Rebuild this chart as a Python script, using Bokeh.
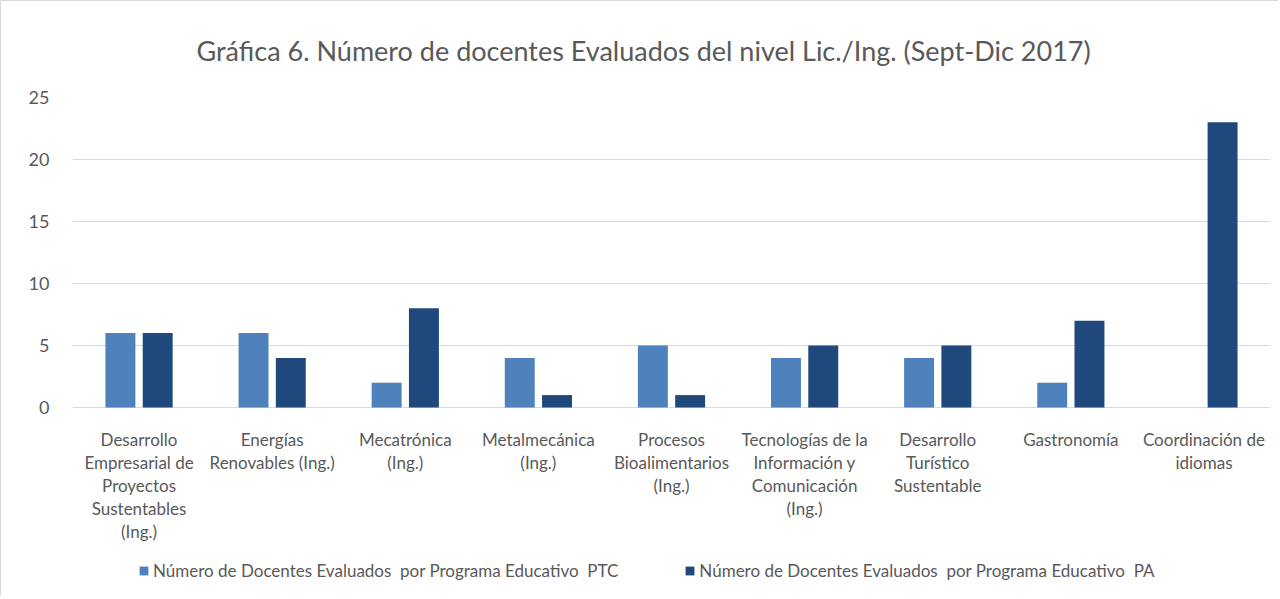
from bokeh.plotting import figure
from bokeh.models import ColumnDataSource, Legend, LegendItem, FixedTicker, Range1d
from bokeh.core.properties import value
from bokeh.embed import file_html
from bokeh.resources import INLINE
import numpy as np

categories = [
    "Desarrollo\nEmpresarial de\nProyectos\nSustentables\n(Ing.)",
    "Energías\nRenovables (Ing.)",
    "Mecatrónica\n(Ing.)",
    "Metalmecánica\n(Ing.)",
    "Procesos\nBioalimentarios\n(Ing.)",
    "Tecnologías de la\nInformación y\nComunicación\n(Ing.)",
    "Desarrollo\nTurístico\nSustentable",
    "Gastronomía",
    "Coordinación de\nidiomas",
]
ptc = [6, 6, 2, 4, 5, 4, 4, 2, 0]
pa = [6, 4, 8, 1, 1, 5, 5, 7, 23]
y_ticks = [0, 5, 10, 15, 20, 25]

series_names = [
    "Número de Docentes Evaluados  por Programa Educativo  PTC",
    "Número de Docentes Evaluados  por Programa Educativo  PA",
]
colors = ["#4f81bd", "#1f497d"]

FONT = "Lato"
TXT = "#595959"

idx = np.arange(len(categories))

# plot frame: 0..25 spans 310 px; extra room below 0 holds category labels and legend
PX_PER_UNIT = 310 / 25
BELOW_PX = 183
y_start = -BELOW_PX / PX_PER_UNIT

p = figure(frame_width=1198, frame_height=310 + BELOW_PX, output_backend="svg", toolbar_location=None,
           x_range=Range1d(-0.5, 8.5), y_range=Range1d(y_start, 25),
           min_border_left=71, min_border_right=8, min_border_top=96, min_border_bottom=6,
           title="Gráfica 6. Número de docentes Evaluados  del nivel Lic./Ing. (Sept-Dic 2017)")
p.styles = {"border-left": "1px solid #d9d9d9", "border-top": "1px solid #d9d9d9"}

p.title.align = "left"
p.title.text_font = FONT
p.title.text_font_size = "27px"
p.title.text_font_style = "normal"
p.title.text_color = TXT
p.title.offset = 124
p.title.standoff = 61

src1 = ColumnDataSource(dict(x=idx - 0.14, top=ptc))
src2 = ColumnDataSource(dict(x=idx + 0.14, top=pa))
r1 = p.vbar(x="x", top="top", width=0.225, source=src1, color=colors[0], line_color=None)
r2 = p.vbar(x="x", top="top", width=0.225, source=src2, color=colors[1], line_color=None)

# category labels under the baseline
lab_src = ColumnDataSource(dict(x=idx, y=np.zeros(len(categories)), text=categories))
p.text(x="x", y="y", text="text", source=lab_src, text_align="center", text_baseline="top",
       y_offset=21, text_font=value(FONT), text_font_size="17px", text_color=TXT,
       text_line_height=1.1)

p.outline_line_color = None
p.xgrid.grid_line_color = None
p.ygrid.grid_line_color = "#d9d9d9"
p.ygrid.ticker = FixedTicker(ticks=y_ticks)
p.xaxis.visible = False

p.yaxis.ticker = FixedTicker(ticks=y_ticks)
p.yaxis.axis_line_color = None
p.yaxis.major_tick_line_color = None
p.yaxis.minor_tick_line_color = None
p.yaxis.major_label_text_font = FONT
p.yaxis.major_label_text_font_size = "18px"
p.yaxis.major_label_text_color = TXT
p.yaxis.major_label_standoff = 17

legend = Legend(items=[LegendItem(label=series_names[0], renderers=[r1]),
                       LegendItem(label=series_names[1], renderers=[r2])],
                orientation="horizontal", location=(66, 9), padding=0, margin=0,
                label_text_font=FONT, label_text_font_size="17px", label_text_color=TXT,
                glyph_width=11, glyph_height=11, label_standoff=4, spacing=66,
                border_line_color=None, background_fill_alpha=0)
p.add_layout(legend, "center")

open("out.html", "w").write(file_html(p, INLINE))
